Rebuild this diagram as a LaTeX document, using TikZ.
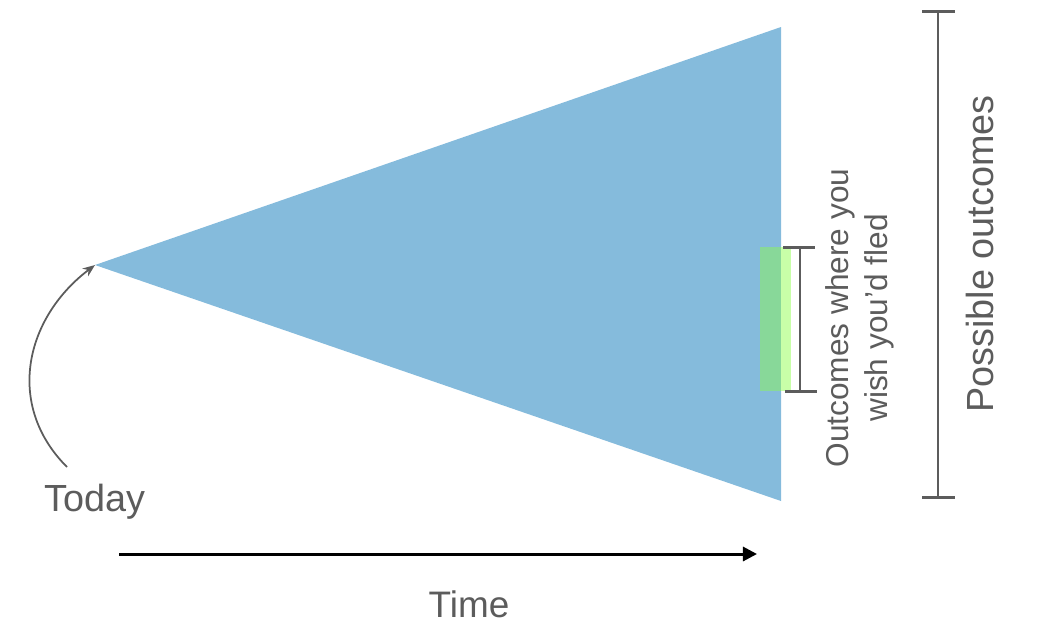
\documentclass[tikz,border=0pt]{standalone}
\usepackage{fontspec}
\setmainfont{Liberation Sans}
\usetikzlibrary{arrows.meta, positioning}
\definecolor{coneblue}{HTML}{85BBDC}
\definecolor{fledgreen}{HTML}{88D899}
\definecolor{fledlight}{HTML}{C8FFA8}
\definecolor{labelgray}{HTML}{5C5C5C}

\begin{document}
\begin{tikzpicture}[x=0.02cm, y=-0.02cm,
		caption/.style={text=labelgray, inner sep=0pt},
		bracket/.style={draw=labelgray, line width=1.7pt},
		pointer/.style={draw=labelgray, line width=1pt, -{Stealth[length=7pt, width=5.5pt]}}]
			\useasboundingbox (0,0) rectangle (1046,630);
			% the cone of outcomes
			\coordinate (apex) at (95,265);
			\coordinate (conetop) at (781,27);
			\coordinate (conebot) at (781,501);
			\fill[coneblue] (apex) -- (conetop) -- (conebot) -- cycle;
			% outcomes where you wish you'd fled
			\fill[fledgreen] (760,247) rectangle (781,391);
			\fill[fledlight] (781,247) rectangle (791,391);
			% brackets
			\coordinate (fledtop) at (800,247);
			\coordinate (fledbot) at (800,391);
			\draw[bracket] (fledtop) -- (fledbot);
			\draw[bracket] ([xshift=-0.34cm]fledtop) -- ([xshift=0.3cm]fledtop);
			\draw[bracket] ([xshift=-0.3cm]fledbot) -- ([xshift=0.34cm]fledbot);
			\coordinate (alltop) at (938,11);
			\coordinate (allbot) at (938,497);
			\draw[bracket] (alltop) -- (allbot);
			\draw[bracket] ([xshift=-0.32cm]alltop) -- ([xshift=0.34cm]alltop);
			\draw[bracket] ([xshift=-0.32cm]allbot) -- ([xshift=0.34cm]allbot);
			% labels
			\node[caption, anchor=base, font=\fontsize{21.5}{25}\selectfont] (today) at (95,511) {Today};
			\node[caption, anchor=base, font=\fontsize{21}{25}\selectfont] (time) at (469,617) {Time};
			\node[caption, anchor=base, rotate=90, font=\fontsize{21.5}{26}\selectfont] (possible) at (993,254) {Possible outcomes};
			\node[caption, rotate=90, align=center, font=\fontsize{18}{22.5}\selectfont] (fled) at (860,318) {Outcomes where you\\wish you'd fled};
			% arrows
			\coordinate (todaytail) at (67,467);
			\path[pointer] (todaytail) .. controls (5,405) and (25,318) .. (apex);
			\coordinate (timestart) at (119,554);
			\coordinate (timeend) at (757,554);
			\draw[line width=1.7pt, -{Triangle[length=8pt, width=8pt]}] (timestart) -- (timeend);
		\end{tikzpicture}
\end{document}
